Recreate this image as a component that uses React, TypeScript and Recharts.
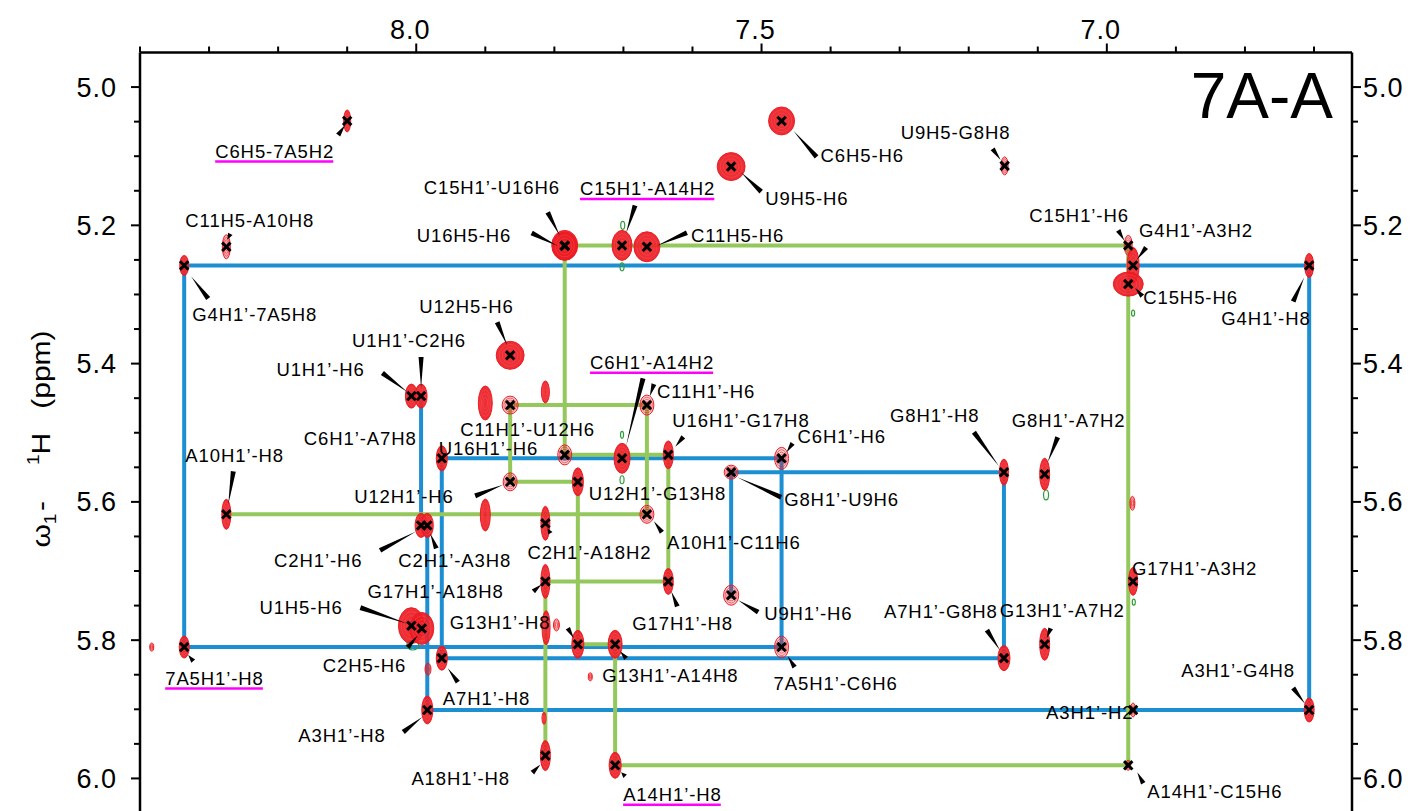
import React from "react";
import { ScatterChart, Scatter, XAxis, YAxis } from "recharts";

// 2D NOESY H1'/H5 - aromatic region, sample 7A-A
const FONT = "'Liberation Sans', Arial, Helvetica, sans-serif";
const BLUE = "#1b8fd2";
const GREEN = "#94c85c";
const RED = "#ec1c24";
const NEG = "#2e9e3a";
const MAGENTA = "#ff00ff";

const X_MIN = 6.645;
const X_MAX = 8.4;
const Y_MIN = 4.95;
const Y_MAX = 6.05;

const CHART_W = 1406;
const CHART_H = 820;
const MARGIN = { top: 14.5, right: 2, bottom: 15, left: 72 };
const X_AXIS_H = 30;
const Y_AXIS_W = 60;
const PLOT_W = CHART_W - MARGIN.left - MARGIN.right - 2 * Y_AXIS_W;
const PLOT_H = CHART_H - MARGIN.top - MARGIN.bottom - X_AXIS_H;
const PX_X = PLOT_W / (X_MAX - X_MIN);
const PX_Y = PLOT_H / (Y_MAX - Y_MIN);

const xTicks = [6.7, 6.8, 6.9, 7.0, 7.1, 7.2, 7.3, 7.4, 7.5, 7.6, 7.7, 7.8, 7.9, 8.0, 8.1, 8.2, 8.3, 8.4];
const xMajor = [7.0, 7.5, 8.0];
const yTicks = [
  5.0, 5.05, 5.1, 5.15, 5.2, 5.25, 5.3, 5.35, 5.4, 5.45, 5.5, 5.55, 5.6, 5.65, 5.7, 5.75, 5.8, 5.85,
  5.9, 5.95, 6.0,
];
const yMajor = [5.0, 5.2, 5.4, 5.6, 5.8, 6.0];

// assigned cross peaks: name, w2 (aromatic ppm), w1 (H1'/H5 ppm)
const peaks: [string, number, number][] = [
  ["C6H5-7A5H2", 8.1, 5.049],
  ["C11H5-A10H8", 8.275, 5.231],
  ["G4H1’-7A5H8", 8.336, 5.258],
  ["C6H5-H6", 7.471, 5.049],
  ["U9H5-H6", 7.544, 5.115],
  ["U9H5-G8H8", 7.148, 5.114],
  ["C15H1’-U16H6", 7.785, 5.229],
  ["U16H5-H6", 7.785, 5.23],
  ["C15H1’-A14H2", 7.702, 5.229],
  ["C11H5-H6", 7.666, 5.231],
  ["C15H1’-H6", 6.969, 5.229],
  ["G4H1’-A3H2", 6.962, 5.258],
  ["G4H1’-H8", 6.707, 5.258],
  ["C15H5-H6", 6.969, 5.285],
  ["U12H5-H6", 7.864, 5.388],
  ["U1H1’-H6", 8.007, 5.447],
  ["U1H1’-C2H6", 7.993, 5.447],
  ["C11H1’-U12H6", 7.864, 5.46],
  ["C11H1’-H6", 7.666, 5.46],
  ["C6H1’-A7H8", 7.963, 5.537],
  ["U16H1’-H6", 7.785, 5.532],
  ["C6H1’-A14H2", 7.702, 5.537],
  ["U16H1’-G17H8", 7.635, 5.532],
  ["C6H1’-H6", 7.471, 5.537],
  ["G8H1’-U9H6", 7.544, 5.557],
  ["G8H1’-H8", 7.149, 5.557],
  ["G8H1’-A7H2", 7.09, 5.56],
  ["U12H1’-H6", 7.864, 5.571],
  ["U12H1’-G13H8", 7.766, 5.571],
  ["A10H1’-H8", 8.275, 5.618],
  ["A10H1’-C11H6", 7.666, 5.618],
  ["C2H1’-A18H2", 7.813, 5.631],
  ["C2H1’-H6", 7.993, 5.634],
  ["C2H1’-A3H8", 7.984, 5.634],
  ["G17H1’-A18H8", 7.813, 5.715],
  ["G17H1’-H8", 7.635, 5.715],
  ["G17H1’-A3H2", 6.962, 5.715],
  ["U9H1’-H6", 7.544, 5.735],
  ["U1H5-H6", 8.007, 5.779],
  ["C2H5-H6", 7.992, 5.783],
  ["G13H1’-H8", 7.766, 5.806],
  ["G13H1’-A14H8", 7.712, 5.806],
  ["G13H1’-A7H2", 7.09, 5.806],
  ["7A5H1’-H8", 8.336, 5.81],
  ["7A5H1’-C6H6", 7.471, 5.81],
  ["A7H1’-H8", 7.963, 5.826],
  ["A7H1’-G8H8", 7.149, 5.826],
  ["A3H1’-H8", 7.984, 5.901],
  ["A3H1’-H2", 6.962, 5.901],
  ["A3H1’-G4H8", 6.707, 5.901],
  ["A18H1’-H8", 7.813, 5.967],
  ["A14H1’-H8", 7.712, 5.981],
  ["A14H1’-C15H6", 6.969, 5.981],
];

// contour extent (half-width in ppm, w2 / w1) and relative intensity
const contours: [string, number, number, number][] = [
  ["C6H5-7A5H2", 0.0051, 0.0159, 1],
  ["C11H5-A10H8", 0.0058, 0.0174, 0.4],
  ["G4H1’-7A5H8", 0.0065, 0.0145, 1],
  ["C6H5-H6", 0.0188, 0.0202, 1],
  ["U9H5-H6", 0.0202, 0.0202, 1],
  ["U9H5-G8H8", 0.0051, 0.013, 0.3],
  ["C15H1’-U16H6", 0.0188, 0.0217, 1],
  ["U16H5-H6", 0.0174, 0.0202, 1],
  ["C15H1’-A14H2", 0.0145, 0.0217, 1],
  ["C11H5-H6", 0.0188, 0.0217, 1],
  ["C15H1’-H6", 0.0058, 0.0145, 0.3],
  ["G4H1’-A3H2", 0.0087, 0.026, 1],
  ["G4H1’-H8", 0.0065, 0.0174, 1],
  ["C15H5-H6", 0.0217, 0.0174, 1],
  ["U12H5-H6", 0.0202, 0.0202, 1],
  ["U1H1’-H6", 0.0087, 0.0174, 0.6],
  ["U1H1’-C2H6", 0.0087, 0.0174, 0.6],
  ["C11H1’-U12H6", 0.0116, 0.013, 0.2],
  ["C11H1’-H6", 0.0101, 0.0145, 0.2],
  ["C6H1’-A7H8", 0.008, 0.0181, 1],
  ["U16H1’-H6", 0.0101, 0.0145, 0.2],
  ["C6H1’-A14H2", 0.0116, 0.0217, 1],
  ["U16H1’-G17H8", 0.0072, 0.0202, 1],
  ["C6H1’-H6", 0.0101, 0.0159, 0.2],
  ["G8H1’-U9H6", 0.0101, 0.0101, 0.2],
  ["G8H1’-H8", 0.0065, 0.0188, 1],
  ["G8H1’-A7H2", 0.0072, 0.0231, 1],
  ["U12H1’-H6", 0.0101, 0.013, 0.2],
  ["U12H1’-G13H8", 0.008, 0.0202, 1],
  ["A10H1’-H8", 0.0065, 0.0217, 1],
  ["A10H1’-C11H6", 0.0101, 0.013, 0.2],
  ["C2H1’-A18H2", 0.0065, 0.0246, 1],
  ["C2H1’-H6", 0.0087, 0.0174, 1],
  ["C2H1’-A3H8", 0.0087, 0.0174, 1],
  ["G17H1’-A18H8", 0.0065, 0.0246, 1],
  ["G17H1’-H8", 0.0072, 0.0188, 1],
  ["G17H1’-A3H2", 0.0065, 0.0202, 1],
  ["U9H1’-H6", 0.0109, 0.0145, 0.2],
  ["U1H5-H6", 0.0188, 0.026, 1],
  ["C2H5-H6", 0.0174, 0.0231, 1],
  ["G13H1’-H8", 0.0087, 0.0202, 1],
  ["G13H1’-A14H8", 0.0101, 0.0202, 0.6],
  ["G13H1’-A7H2", 0.0072, 0.0231, 1],
  ["7A5H1’-H8", 0.0072, 0.0159, 1],
  ["7A5H1’-C6H6", 0.0101, 0.0159, 0.2],
  ["A7H1’-H8", 0.008, 0.0174, 1],
  ["A7H1’-G8H8", 0.0087, 0.0181, 1],
  ["A3H1’-H8", 0.008, 0.0202, 1],
  ["A3H1’-H2", 0.0036, 0.0101, 0.2],
  ["A3H1’-G4H8", 0.0072, 0.0174, 1],
  ["A18H1’-H8", 0.0072, 0.0217, 1],
  ["A14H1’-H8", 0.0087, 0.0188, 0.6],
  ["A14H1’-C15H6", 0.0036, 0.0072, 0.2],
];

// unassigned positive peaks: w2, w1, half-widths, intensity
const unassigned: [number, number, number, number, number][] = [
  [7.9, 5.457, 0.0101, 0.0246, 1],
  [7.813, 5.441, 0.0058, 0.0159, 1],
  [7.9, 5.619, 0.0072, 0.0231, 1],
  [7.812, 5.782, 0.0058, 0.0246, 0.8],
  [6.963, 5.602, 0.0036, 0.0101, 0.2],
  [7.797, 5.778, 0.0043, 0.0087, 0.1],
  [7.748, 5.853, 0.0029, 0.0058, 0.1],
  [7.815, 5.913, 0.0029, 0.0087, 1],
  [7.983, 5.842, 0.0043, 0.0087, 0.2],
  [8.383, 5.81, 0.0029, 0.0058, 0.1],
];

// negative contours
const negative: [number, number, number, number][] = [
  [7.701, 5.2, 0.0029, 0.0058],
  [7.702, 5.26, 0.0029, 0.0058],
  [7.088, 5.59, 0.0036, 0.0072],
  [8.005, 5.807, 0.0087, 0.0072],
  [6.962, 5.327, 0.0022, 0.0043],
  [6.961, 5.745, 0.0022, 0.0043],
  [7.702, 5.568, 0.0029, 0.0058],
  [7.702, 5.503, 0.0022, 0.0051],
];

// sequential walks
const blueWalk = [
  "U1H1’-H6", "U1H1’-C2H6", "C2H1’-H6", "C2H1’-A3H8", "A3H1’-H8", "A3H1’-G4H8", "G4H1’-H8",
  "G4H1’-7A5H8", "7A5H1’-H8", "7A5H1’-C6H6", "C6H1’-H6", "C6H1’-A7H8", "A7H1’-H8", "A7H1’-G8H8",
  "G8H1’-H8", "G8H1’-U9H6", "U9H1’-H6",
];
const greenWalk = [
  "A10H1’-H8", "A10H1’-C11H6", "C11H1’-H6", "C11H1’-U12H6", "U12H1’-H6", "U12H1’-G13H8",
  "G13H1’-H8", "G13H1’-A14H8", "A14H1’-H8", "A14H1’-C15H6", "C15H1’-H6", "C15H1’-U16H6",
  "U16H1’-H6", "U16H1’-G17H8", "G17H1’-H8", "G17H1’-A18H8", "A18H1’-H8",
];

// label placement: text offset from peak (px) and pointer wedge [x1, y1, x2, y2]
const labelLayout: [string, number, number, number[] | null][] = [
  ["C6H5-7A5H2", -132, 37, [-9, 14, -2, 4]],
  ["C11H5-A10H8", -41, -20, [4, -13, 1, -7]],
  ["G4H1’-7A5H8", 8, 56, [24, 33, 7, 11]],
  ["C6H5-H6", 39, 41, [35, 36, 12, 10]],
  ["U9H5-H6", 34, 38, [30, 25, 10, 6]],
  ["U9H5-G8H8", -104, -27, [-12, -17, -4, -6]],
  ["C15H1’-U16H6", -141, -51, [-17, -33, -5, -10]],
  ["U16H5-H6", -148, -4, [-33, -13, -7, 0]],
  ["C15H1’-A14H2", -42, -50, [13, -40, 4, -12]],
  ["C11H5-H6", 44, -5, [40, -14, 10, -1]],
  ["C15H1’-H6", -99, -23, [-10, -15, -4, -5]],
  ["G4H1’-A3H2", 6, -28, [13, -18, 4, -6]],
  ["G4H1’-H8", -88, 60, [-16, 36, -5, 12]],
  ["C15H5-H6", 15, 20, [14, 12, 7, 4]],
  ["U12H5-H6", -91, -42, [-13, -33, -3, -10]],
  ["U1H1’-H6", -135, -20, [-29, -23, -4, -4]],
  ["U1H1’-C2H6", -69, -49, [0, -39, 0, -8]],
  ["C11H1’-U12H6", -50, 31, null],
  ["C11H1’-H6", 10, -7, [7, -21, 3, -9]],
  ["C6H1’-A7H8", -138, -13, null],
  ["U16H1’-H6", -126, 0, null],
  ["C6H1’-A14H2", -32, -89, [21, -80, 4, -12]],
  ["U16H1’-G17H8", 4, -28, [15, -18, 7, -8]],
  ["C6H1’-H6", 16, -15, [11, -15, 5, -6]],
  ["G8H1’-U9H6", 53, 34, [50, 25, 6, 5]],
  ["G8H1’-H8", -114, -50, [-30, -40, -5, -6]],
  ["G8H1’-A7H2", -33, -47, [13, -37, 3, -12]],
  ["U12H1’-H6", -156, 21, [-35, 14, -7, 3]],
  ["U12H1’-G13H8", 11, 18, null],
  ["A10H1’-H8", -41, -52, [7, -43, 2, -10]],
  ["A10H1’-C11H6", 20, 35, [15, 18, 7, 7]],
  ["C2H1’-A18H2", -18, 36, [5, 10, 2, 5]],
  ["C2H1’-H6", -147, 42, [-41, 25, -5, 6]],
  ["C2H1’-A3H8", -29, 42, [9, 23, 3, 8]],
  ["G17H1’-H8", -36, 49, [9, 25, 3, 10]],
  ["G17H1’-A18H8", -178, 17, [-12, 10, -4, 3]],
  ["G17H1’-A3H2", -1, -6, null],
  ["U9H1’-H6", 33, 25, [27, 17, 7, 5]],
  ["U1H5-H6", -152, -12, [-51, -18, -4, -2]],
  ["C2H5-H6", -99, 44, [-14, 19, -4, 7]],
  ["G13H1’-H8", -128, -15, [-10, -16, -4, -6]],
  ["G13H1’-A14H8", -13, 38, [11, 14, 5, 7]],
  ["7A5H1’-H8", -19, 38, [9, 14, 4, 8]],
  ["7A5H1’-C6H6", -8, 43, [13, 20, 6, 9]],
  ["A7H1’-H8", 1, 47, [16, 24, 6, 10]],
  ["A7H1’-G8H8", -120, -40, [-17, -28, -4, -8]],
  ["G13H1’-A7H2", -45, -27, [6, -16, 2, -6]],
  ["A3H1’-H8", -129, 32, [-24, 22, -5, 7]],
  ["A3H1’-H2", -87, 9, null],
  ["A3H1’-G4H8", -128, -33, [-16, -22, -4, -6]],
  ["A18H1’-H8", -134, 29, [-13, 17, -5, 9]],
  ["A14H1’-H8", 8, 36, [10, 11, 6, 7]],
  ["A14H1’-C15H6", 19, 33, [15, 18, 9, 7]],
];
const underlined = ["C6H5-7A5H2", "C15H1’-A14H2", "C6H1’-A14H2", "7A5H1’-H8", "A14H1’-H8"];

const byName: Record<string, { name: string; x: number; y: number }> = {};
peaks.forEach(([name, x, y]) => (byName[name] = { name, x, y }));
const contourByName: Record<string, [number, number, number]> = {};
contours.forEach(([n, wx, wy, lv]) => (contourByName[n] = [wx, wy, lv]));
const layoutByName: Record<string, [number, number, number[] | null]> = {};
labelLayout.forEach(([n, dx, dy, p]) => (layoutByName[n] = [dx, dy, p]));

const peakData = peaks.map(([name, x, y]) => {
  const c = contourByName[name] || [0.005, 0.012, 0.5];
  return { name, x, y, wx: c[0], wy: c[1], level: c[2] };
});
const unassignedData = unassigned.map(([x, y, wx, wy, level]) => ({ x, y, wx, wy, level }));
const negativeData = negative.map(([x, y, wx, wy]) => ({ x, y, wx, wy }));
const blueData = blueWalk.map((n) => byName[n]);
const greenData = greenWalk.map((n) => byName[n]);

const LFS = 18.5;
const LLS = 0.9;
const CW: Record<string, number> = { A: 0.667, C: 0.722, G: 0.778, H: 0.722, U: 0.722, "-": 0.333, "’": 0.222 };
const textWidth = (s: string) => [...s].reduce((w, c) => w + (CW[c] ?? 0.556) * LFS + LLS, 0) - LLS;

const Contour = (p: any) => {
  const { cx, cy, payload } = p;
  const rx = payload.wx * PX_X;
  const ry = payload.wy * PX_Y;
  const lv = payload.level;
  const strong = lv > 0.5;
  const rings = [0.78, 0.56, 0.34];
  return (
    <g>
      <ellipse
        cx={cx}
        cy={cy}
        rx={rx}
        ry={ry}
        fill={RED}
        fillOpacity={strong ? 0.92 : 0.12 + 0.5 * lv}
        stroke={RED}
        strokeWidth={1}
      />
      {rings.map((k) => (
        <ellipse
          key={k}
          cx={cx}
          cy={cy}
          rx={rx * k}
          ry={ry * k}
          fill="none"
          stroke={strong ? "#ff6a6a" : RED}
          strokeOpacity={strong ? 0.4 : 0.85}
          strokeWidth={0.7}
        />
      ))}
    </g>
  );
};

const NegContour = (p: any) => {
  const { cx, cy, payload } = p;
  return (
    <ellipse cx={cx} cy={cy} rx={payload.wx * PX_X} ry={payload.wy * PX_Y} fill="none" stroke={NEG} strokeWidth={1.2} />
  );
};

const Cross = (p: any) => {
  const { cx, cy } = p;
  const s = 4.2;
  return (
    <g stroke="#000" strokeWidth={3}>
      <line x1={cx - s} y1={cy - s} x2={cx + s} y2={cy + s} />
      <line x1={cx - s} y1={cy + s} x2={cx + s} y2={cy - s} />
    </g>
  );
};

const wedge = (x1: number, y1: number, x2: number, y2: number, w: number) => {
  const len = Math.hypot(x2 - x1, y2 - y1) || 1;
  const nx = (-(y2 - y1) / len) * (w / 2);
  const ny = ((x2 - x1) / len) * (w / 2);
  return `${x1 + nx},${y1 + ny} ${x1 - nx},${y1 - ny} ${x2},${y2}`;
};

const PeakLabel = (p: any) => {
  const { cx, cy, payload } = p;
  const lay = layoutByName[payload.name];
  if (!lay) return <g />;
  const [dx, dy, ptr] = lay;
  const tx = cx + dx;
  const ty = cy + dy;
  const ul = underlined.includes(payload.name);
  return (
    <g>
      {ptr && <polygon points={wedge(cx + ptr[0], cy + ptr[1], cx + ptr[2], cy + ptr[3], 5)} fill="#000" />}
      <text x={tx} y={ty} fontSize={LFS} fontFamily={FONT} fill="#000" style={{ letterSpacing: LLS }}>
        {payload.name}
      </text>
      {ul && (
        <line x1={tx} y1={ty + 3.5} x2={tx + textWidth(payload.name)} y2={ty + 3.5} stroke={MAGENTA} strokeWidth={2.5} />
      )}
    </g>
  );
};

const isMajor = (list: number[], v: number) => list.some((m) => Math.abs(m - v) < 1e-6);

const XTick = (p: any) => {
  const { x, y, payload } = p;
  const major = isMajor(xMajor, payload.value);
  return (
    <g>
      <line x1={x} y1={y} x2={x} y2={y - (major ? 9 : 6)} stroke="#000" strokeWidth={2} />
      {major && (
        <text x={x - 6} y={y - 14} textAnchor="middle" fontSize={27} fontFamily={FONT} fill="#000" style={{ letterSpacing: 1 }}>
          {payload.value.toFixed(1)}
        </text>
      )}
    </g>
  );
};

const YTickLeft = (p: any) => {
  const { x, y, payload } = p;
  const major = isMajor(yMajor, payload.value);
  return (
    <g>
      <line x1={x} y1={y} x2={x - (major ? 9 : 6)} y2={y} stroke="#000" strokeWidth={2} />
      {major && (
        <text x={x - 23} y={y + 9.5} textAnchor="end" fontSize={27} fontFamily={FONT} fill="#000" style={{ letterSpacing: 1 }}>
          {payload.value.toFixed(1)}
        </text>
      )}
    </g>
  );
};

const YTickRight = (p: any) => {
  const { x, y, payload } = p;
  const major = isMajor(yMajor, payload.value);
  return (
    <g>
      <line x1={x} y1={y} x2={x + (major ? 9 : 6)} y2={y} stroke="#000" strokeWidth={2} />
      {major && (
        <text x={x + 11} y={y + 9.5} textAnchor="start" fontSize={27} fontFamily={FONT} fill="#000" style={{ letterSpacing: 1 }}>
          {payload.value.toFixed(1)}
        </text>
      )}
    </g>
  );
};

const YTitle = () => (
  <text transform="translate(42,431) rotate(-90) scale(1.2,1)" x={0} y={0} textAnchor="middle" fontSize={25} fontFamily={FONT} fill="#000">
    ω
    <tspan fontSize={16} dy={6}>1</tspan>
    <tspan dx={2} dy={-6}>-</tspan>
    <tspan fontSize={16} dx={30} dy={-11}>1</tspan>
    <tspan dy={11}>H</tspan>
    <tspan dx={20}>(ppm)</tspan>
  </text>
);

const SampleTitle = () => (
  <text x={1325} y={110} textAnchor="end" fontSize={64} fontFamily={FONT} fill="#000">
    7A-A
  </text>
);

const none = () => <g />;

export default function App() {
  return (
    <div style={{ width: CHART_W, height: 803, overflow: "hidden", background: "#fff" }}>
      <ScatterChart width={CHART_W} height={CHART_H} margin={MARGIN}>
        <XAxis
          type="number"
          dataKey="x"
          orientation="top"
          reversed
          domain={[X_MIN, X_MAX]}
          allowDataOverflow
          ticks={xTicks}
          interval={0}
          tickSize={0}
          tickMargin={0}
          tickLine={false}
          height={X_AXIS_H}
          axisLine={{ stroke: "#000", strokeWidth: 2.5 }}
          tick={XTick}
        />
        <YAxis
          yAxisId="l"
          type="number"
          dataKey="y"
          orientation="left"
          reversed
          domain={[Y_MIN, Y_MAX]}
          allowDataOverflow
          ticks={yTicks}
          interval={0}
          tickSize={0}
          tickMargin={0}
          tickLine={false}
          width={Y_AXIS_W}
          axisLine={{ stroke: "#000", strokeWidth: 2.5 }}
          tick={YTickLeft}
          label={{ content: YTitle }}
        />
        <YAxis
          yAxisId="r"
          type="number"
          dataKey="y"
          orientation="right"
          reversed
          domain={[Y_MIN, Y_MAX]}
          allowDataOverflow
          ticks={yTicks}
          interval={0}
          tickSize={0}
          tickMargin={0}
          tickLine={false}
          width={Y_AXIS_W}
          axisLine={{ stroke: "#000", strokeWidth: 2.5 }}
          tick={YTickRight}
          label={{ content: SampleTitle }}
        />
        <Scatter
          name="blue walk"
          yAxisId="l"
          data={blueData}
          fill={BLUE}
          line={{ stroke: BLUE, strokeWidth: 4 }}
          shape={none}
          isAnimationActive={false}
        />
        <Scatter
          name="green walk"
          yAxisId="l"
          data={greenData}
          fill={GREEN}
          line={{ stroke: GREEN, strokeWidth: 4 }}
          shape={none}
          isAnimationActive={false}
        />
        <Scatter name="negative" yAxisId="l" data={negativeData} shape={NegContour} isAnimationActive={false} />
        <Scatter name="unassigned" yAxisId="l" data={unassignedData} shape={Contour} isAnimationActive={false} />
        <Scatter name="contours" yAxisId="l" data={peakData} shape={Contour} isAnimationActive={false} />
        <Scatter name="peaks" yAxisId="l" data={peakData} shape={Cross} isAnimationActive={false} />
        <Scatter name="labels" yAxisId="l" data={peakData} shape={PeakLabel} isAnimationActive={false} />
      </ScatterChart>
    </div>
  );
}
